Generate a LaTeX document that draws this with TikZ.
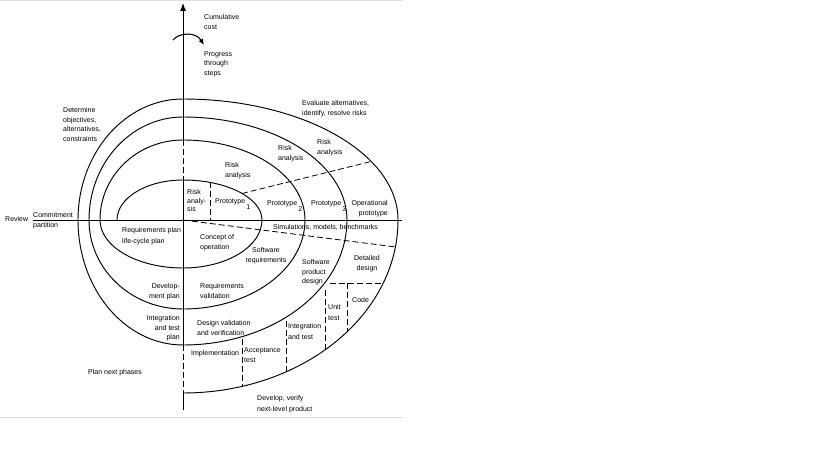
\documentclass[tikz,border=0pt]{standalone}
\usepackage{fontspec}
\setmainfont{Liberation Sans}
\usetikzlibrary{arrows.meta}

\tikzset{
  lbl/.style={inner sep=0pt, font=\fontsize{7}{9.8}\selectfont, align=left, anchor=north west},
  lblr/.style={lbl, align=right, anchor=north east},
  lblc/.style={lbl, align=center, anchor=north},
  spiral/.style={line width=0.95pt},
  divider/.style={line width=0.8pt, dash pattern=on 6pt off 3pt},
}

\begin{document}
\begin{tikzpicture}[x=1pt, y=-1pt]
  \useasboundingbox (0,0) rectangle (816,460);
  \draw[black!12, line width=0.8pt] (0,0.5) -- (403,0.5);   % frame
  \draw[black!12, line width=0.8pt] (0,417) -- (403,417);

  \coordinate (o) at (183,220);

  % axes
  \draw[line width=0.9pt] (33,220) -- (402,220);
  \draw[line width=0.9pt, -{Latex[length=8pt, width=6pt]}] (183,140) -- (183,3);
  \draw[divider] (183,140) -- (183,180);
  \draw[line width=0.9pt] (183,180) -- (183,345);
  \draw[divider] (183,345) -- (183,393);
  \draw[line width=0.9pt] (183,393) -- (183,410);

  % progress arrow
  \draw[line width=1.1pt, -{Latex[length=6pt, width=5pt]}] (173,40) .. controls (180,32) and (196,32) .. (204,45);

  % spiral
  \draw[spiral] (117,220)
    arc[start angle=180, end angle=90, x radius=66pt, y radius=40pt]
    arc[start angle=90, end angle=0, x radius=79pt, y radius=40pt]
    arc[start angle=0, end angle=-90, x radius=79pt, y radius=48pt]
    arc[start angle=-90, end angle=-180, x radius=83pt, y radius=48pt]
    arc[start angle=180, end angle=90, x radius=83pt, y radius=80pt]
    arc[start angle=90, end angle=0, x radius=122pt, y radius=80pt]
    arc[start angle=0, end angle=-90, x radius=122pt, y radius=89pt]
    arc[start angle=-90, end angle=-180, x radius=94pt, y radius=89pt]
    arc[start angle=180, end angle=90, x radius=94pt, y radius=103pt]
    arc[start angle=90, end angle=0, x radius=164pt, y radius=103pt]
    arc[start angle=0, end angle=-90, x radius=164pt, y radius=125pt]
    arc[start angle=-90, end angle=-180, x radius=105pt, y radius=125pt]
    arc[start angle=180, end angle=90, x radius=105pt, y radius=121pt]
    arc[start angle=90, end angle=0, x radius=215pt, y radius=121pt]
    arc[start angle=0, end angle=-90, x radius=215pt, y radius=173pt];

  % dividers
  \draw[divider] (210,182) -- (210,220);
  \draw[divider] (242,193.5) -- (371,161.5);
  \draw[divider] (o) -- (396,247);
  \draw[divider] (330,283) -- (384,283);
  \draw[divider] (347,283) -- (347,331);
  \draw[divider] (325,290) -- (325,350);
  \draw[divider] (286,321) -- (286,372);
  \draw[divider] (242,339) -- (242,386);

  % labels
  \node[lbl] (cost) at (204,14) {Cumulative\\cost};
  \node[lbl] (progress) at (204,51) {Progress\\through\\steps};
  \node[lbl] (objectives) at (63,107) {Determine\\objectives,\\alternatives,\\constraints};
  \node[lbl] (evaluate) at (302,100) {Evaluate alternatives,\\identify, resolve risks};
  \node[lbl] (risk0) at (187,189) {Risk\\[-1pt]analy-\\[-1pt]sis};
  \node[lbl] (risk1) at (225,162) {Risk\\analysis};
  \node[lbl] (risk2) at (278,145) {Risk\\analysis};
  \node[lbl] (risk3) at (317,139) {Risk\\analysis};
  \node[lbl] (proto1) at (215,198) {Prototype\,\raisebox{-6pt}{1}};
  \node[lbl] (proto2) at (267,200) {Prototype\,\raisebox{-6pt}{2}};
  \node[lbl] (proto3) at (311,200) {Prototype\,\raisebox{-6pt}{3}};
  \node[lblr] (operational) at (388,200) {Operational\\prototype};
  \node[lbl, anchor=west] (review) at (5,219) {Review};
  \node[lbl, anchor=south west] (commit) at (33,218) {Commitment};
  \node[lbl] (partition) at (33,222) {partition};
  \node[lbl] (reqplan) at (122,227) {Requirements plan\\[1pt]life-cycle plan};
  \node[lbl] (concept) at (200,234) {Concept of\\operation};
  \node[lblc] (softreq) at (266,247) {Software\\requirements};
  \node[lbl] (softprod) at (302,259) {Software\\product\\design};
  \node[lblc] (detailed) at (367,255) {Detailed\\design};
  \node[lbl] (simul) at (273,224) {Simulations, models, benchmarks};
  \node[lblr] (devplan) at (180,283) {Develop-\\ment plan};
  \node[lbl] (reqval) at (200,283) {Requirements\\validation};
  \node[lbl] (code) at (352,297) {Code};
  \node[lbl] (unittest) at (328,304) {Unit\\[1pt]test};
  \node[lbl] (inttest) at (288,323) {Integration\\[1pt]and test};
  \node[lblr] (intplan) at (180,315) {Integration\\and test\\plan};
  \node[lbl] (designval) at (197,320) {Design validation\\and verification};
  \node[lbl] (impl) at (191,350) {Implementation};
  \node[lbl] (accept) at (244,347) {Acceptance\\[1pt]test};
  \node[lbl] (plannext) at (88,369) {Plan next phases};
  \node[lbl] (devverify) at (257,395) {Develop, verify\\[1pt]next-level product};
\end{tikzpicture}
\end{document}
